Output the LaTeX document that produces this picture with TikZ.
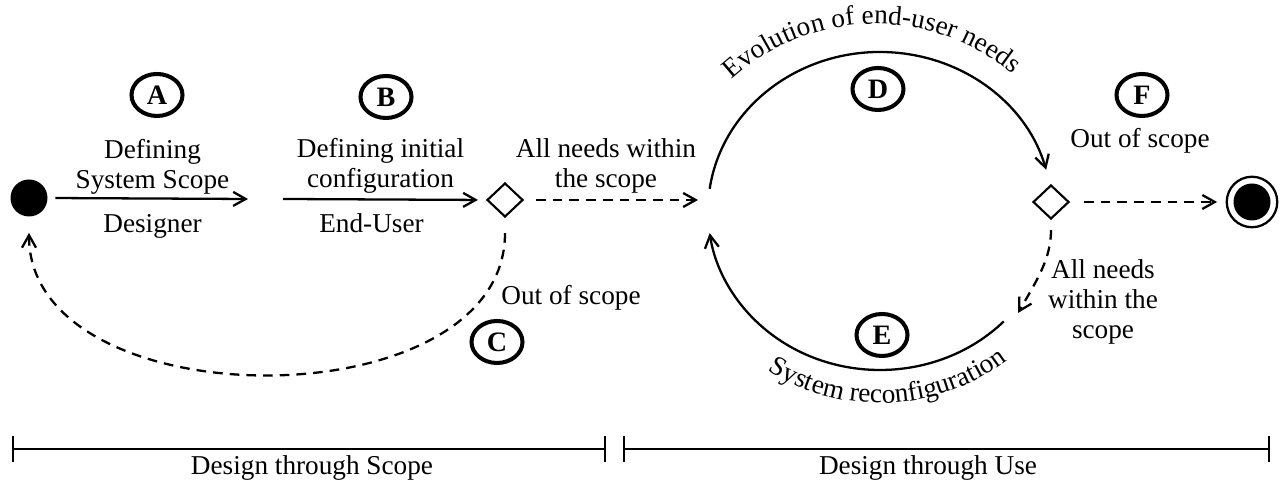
\documentclass[tikz,border=0pt]{standalone}
\usepackage{fontspec}
\setmainfont{Liberation Serif}
\usetikzlibrary{arrows.meta,shapes.geometric,decorations.text}

\begin{document}
\begin{tikzpicture}[every node/.style={font=\fontsize{15.5}{17}\selectfont},
  lbl/.style={draw, ellipse, line width=2.3pt, minimum width=1.02cm, minimum height=0.84cm, inner sep=0pt, font=\fontsize{16}{18}\selectfont\bfseries},
  dec/.style={draw, diamond, line width=1.2pt, minimum width=0.72cm, minimum height=0.68cm, inner sep=0pt},
  txt/.style={align=center},
  arr/.style={-{Straight Barb[length=2.5mm, width=2.8mm]}, line width=1.3pt},
  darr/.style={arr, dash pattern=on 5.5pt off 4pt},
  bar/.style={{Bar[width=5.2mm]}-{Bar[width=5.2mm]}, line width=1.4pt}]
\useasboundingbox (0,0) rectangle (25.6,9.74);
% Design through scope
\node[circle, fill, minimum size=0.74cm, inner sep=0pt] (start) at (0.58,5.78) {};
\coordinate (aEnd) at (4.96,5.76);
\coordinate (bStart) at (5.66,5.76);
\node[dec] (d1) at (10.1,5.74) {};
\node[lbl] (lblA) at (3.14,7.84) {A};
\node[lbl] (lblB) at (7.72,7.80) {B};
\node[lbl] (lblC) at (9.94,2.90) {C};
\node[txt] (defScope) at (3.05,6.40) {Defining\\System Scope};
\node[anchor=base] (designer) at (3.05,5.08) {Designer};
\node[txt] (defInit) at (7.61,6.42) {Defining initial\\configuration};
\node[anchor=base] (endUser) at (7.43,5.08) {End-User};
\node[txt] (withinL) at (12.12,6.42) {All needs within\\the scope};
\node[anchor=base] (outC) at (11.42,3.64) {Out of scope};
\draw[arr, shorten <=0.15cm] (start.east) -- (aEnd);
\draw[arr, shorten >=0.16cm] (bStart) -- (d1.west);
\draw[darr, shorten <=0.3cm, shorten >=0.32cm] (d1.south) .. controls +(0,-4.1) and +(0,-4.1) .. (start.south);
% Design through use
\coordinate (join) at (13.96,5.74);
\coordinate (cyc) at (17.6,5.52);
\coordinate (eIn) at (20.36,3.48);
\node[dec] (d2) at (21.02,5.70) {};
\node[circle, draw, line width=1.3pt, minimum size=1.01cm, inner sep=0pt] (endRing) at (25.04,5.70) {};
\node[circle, fill, minimum size=0.74cm, inner sep=0pt] (endDot) at (endRing) {};
\node[lbl] (lblD) at (17.56,7.96) {D};
\node[lbl] (lblE) at (17.64,3.04) {E};
\node[lbl] (lblF) at (22.84,7.84) {F};
\node[anchor=base] (outF) at (22.80,6.78) {Out of scope};
\node[txt] (withinR) at (22.06,3.70) {All needs\\within the\\scope};
\draw[darr, shorten <=0.24cm] (d1.east) -- (join);
\draw[arr] (cyc) ++(172:3.44 and 3.18) arc[start angle=172, end angle=15, x radius=3.44, y radius=3.18];
\draw[arr] (cyc) ++(-44:3.44 and 3.18) arc[start angle=-44, end angle=-172, x radius=3.44, y radius=3.18];
\draw[darr, shorten <=0.2cm] (d2.south) to[out=-90, in=60] (eIn);
\draw[darr, shorten <=0.28cm, shorten >=0.17cm] (d2.east) -- (endRing.west);
% curved labels
\coordinate (txtTop) at (17.5,5.02);
\coordinate (txtBot) at (17.6,5.90);
\path[decorate, decoration={text along path, text align=center, text={|\fontsize{15.5}{17}\selectfont|Evolution of end-user needs}}] (txtTop) ++(133:4.24) arc[start angle=133, end angle=49, radius=4.24];
\path[decorate, decoration={text along path, text align=center, text={|\fontsize{15.5}{17}\selectfont|System reconfiguration}}] (txtBot) ++(238:4.22) arc[start angle=238, end angle=307, radius=4.22];
% Timeline
\coordinate (scopeL) at (0.24,0.76);
\coordinate (scopeR) at (12.12,0.76);
\coordinate (useL) at (12.46,0.76);
\coordinate (useR) at (25.40,0.76);
\draw[bar] (scopeL) -- (scopeR);
\draw[bar] (useL) -- (useR);
\node[anchor=base] (scopeLbl) at (6.24,0.24) {Design through Scope};
\node[anchor=base] (useLbl) at (18.56,0.24) {Design through Use};
\end{tikzpicture}
\end{document}
